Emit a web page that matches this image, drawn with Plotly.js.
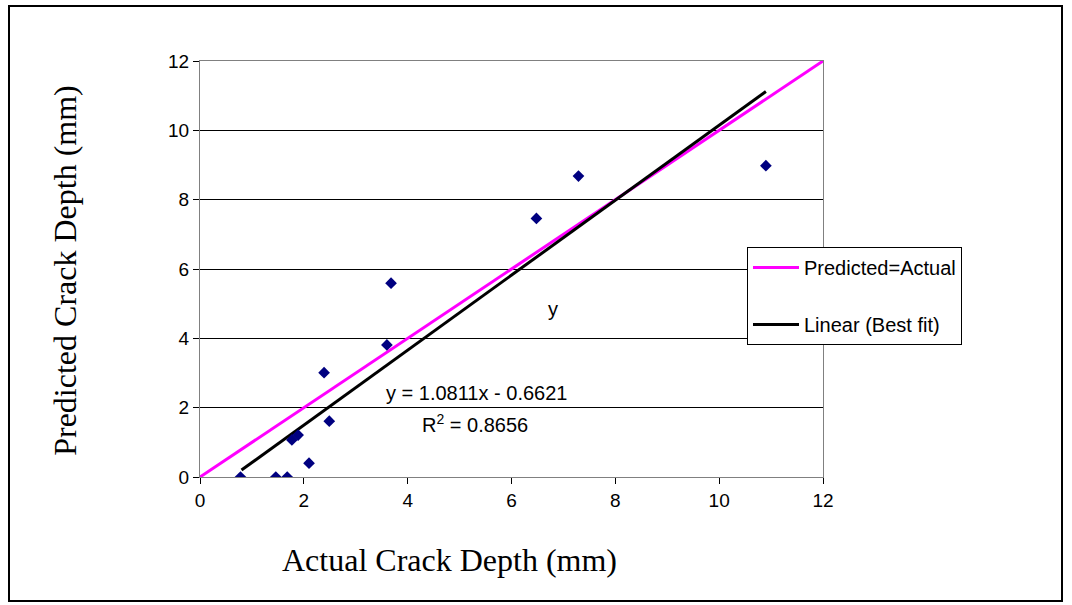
<!DOCTYPE html>
<html>
<head>
<meta charset="utf-8">
<script src="https://cdn.plot.ly/plotly-3.0.1.min.js"></script>
<style>
  html, body { margin: 0; padding: 0; background: #fff; }
  #wrap { position: relative; width: 1072px; height: 605px; }
  #chart { position: absolute; left: 0; top: 0; width: 1072px; height: 605px; }
  #frame { position: absolute; left: 8px; top: 5px; width: 1051px; height: 593px; border: 2px solid #000; pointer-events: none; }
</style>
</head>
<body>
<div id="wrap">
  <div id="chart"></div>
  <div id="frame"></div>
</div>
<script>
// Measured points (Actual vs Predicted crack depth, mm)
const actualDepth    = [0.78, 1.46, 1.68, 1.77, 1.89, 2.10, 2.39, 2.49, 3.60, 3.68, 6.48, 7.29, 10.90];
const predictedDepth = [0.00, 0.00, 0.00, 1.07, 1.21, 0.40, 3.01, 1.61, 3.81, 5.59, 7.46, 8.68, 8.98];

// Predicted = Actual reference line
const identityX = [0, 12];
const identityY = [0, 12];

// Linear best fit line endpoints
const fitX = [0.8, 10.9];
const fitY = [0.20, 11.12];

const fitEquation = 'y = 1.0811x - 0.6621';
const fitR2 = 'R<sup>2</sup> = 0.8656';

const xTicks = [0, 2, 4, 6, 8, 10, 12];
const yTicks = [0, 2, 4, 6, 8, 10, 12];

const sans = 'Arial, "Liberation Sans", sans-serif';
const serif = '"Times New Roman", "Liberation Serif", serif';

const traces = [
  {
    x: identityX, y: identityY, type: 'scatter', mode: 'lines',
    name: 'Predicted=Actual', legendgroup: 'a',
    line: { color: '#FF00FF', width: 3 }
  },
  {
    x: fitX, y: fitY, type: 'scatter', mode: 'lines',
    name: 'Linear (Best fit)', legendgroup: 'b',
    line: { color: '#000000', width: 3 }
  },
  {
    x: actualDepth, y: predictedDepth, type: 'scatter', mode: 'markers',
    name: 'Data', showlegend: false,
    marker: { symbol: 'diamond', size: 9, color: '#000080', line: { width: 0 } }
  }
];

const layout = {
  width: 1072, height: 605,
  margin: { l: 200, r: 249, t: 61, b: 128, pad: 0 },
  paper_bgcolor: '#ffffff', plot_bgcolor: '#ffffff',
  showlegend: true,
  legend: {
    x: 0.878, y: 0.553, xanchor: 'left', yanchor: 'top',
    bgcolor: '#ffffff', bordercolor: '#000000', borderwidth: 1,
    font: { family: sans, size: 20, color: '#000' },
    traceorder: 'grouped', tracegroupgap: 28,
    itemwidth: 46
  },
  xaxis: {
    range: [0, 12], tickvals: xTicks, ticktext: xTicks.map(String),
    showgrid: false, zeroline: false,
    showline: true, linecolor: '#808080', linewidth: 1, mirror: true,
    ticks: 'outside', ticklen: 6, tickcolor: '#000', tickwidth: 1,
    tickfont: { family: sans, size: 19, color: '#000' },
    fixedrange: true
  },
  yaxis: {
    range: [0, 12], tickvals: yTicks, ticktext: yTicks.map(String),
    showgrid: true, gridcolor: '#000000', gridwidth: 1, zeroline: false,
    showline: true, linecolor: '#808080', linewidth: 1, mirror: true,
    ticks: 'outside', ticklen: 6, tickcolor: '#000', tickwidth: 1,
    tickfont: { family: sans, size: 19, color: '#000' },
    fixedrange: true
  },
  annotations: [
    { xref: 'paper', yref: 'paper', x: 0.401, y: -0.2, xanchor: 'center', yanchor: 'middle',
      text: 'Actual Crack Depth (mm)', showarrow: false,
      font: { family: serif, size: 32, color: '#000' } },
    { xref: 'paper', yref: 'paper', x: -0.217, y: 0.4976, xanchor: 'center', yanchor: 'middle',
      text: 'Predicted Crack Depth (mm)', showarrow: false, textangle: -90,
      font: { family: serif, size: 32, color: '#000' } },
    { xref: 'x', yref: 'y', x: 5.32, y: 2.42, xanchor: 'center', yanchor: 'middle',
      text: fitEquation, showarrow: false,
      font: { family: sans, size: 20, color: '#000' } },
    { xref: 'x', yref: 'y', x: 5.30, y: 1.53, xanchor: 'center', yanchor: 'middle',
      text: fitR2, showarrow: false,
      font: { family: sans, size: 20, color: '#000' } },
    { xref: 'x', yref: 'y', x: 6.8, y: 4.85, xanchor: 'center', yanchor: 'middle',
      text: 'y', showarrow: false,
      font: { family: sans, size: 20, color: '#000' } }
  ]
};

Plotly.newPlot('chart', traces, layout, { displayModeBar: false, staticPlot: true });
</script>
</body>
</html>
